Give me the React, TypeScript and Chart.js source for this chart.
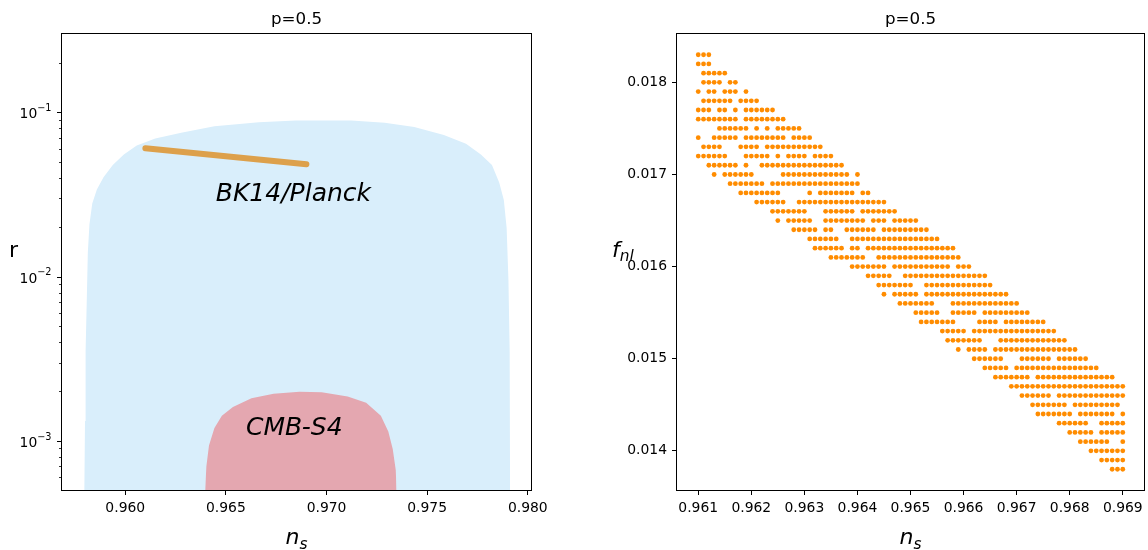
import React, { useEffect, useRef } from 'react';
import { Chart, registerables } from 'chart.js';
Chart.register(...registerables);

const W = 1148;
const H = 550;

// ---------- Left panel data (ns vs r, log r) ----------
const blueNs = [0.95796, 0.958, 0.95803, 0.95809, 0.95814, 0.95822, 0.95836, 0.95859, 0.95892, 0.95938, 0.95993, 0.96057, 0.96149, 0.96278, 0.96443, 0.96664, 0.96847, 0.97123, 0.97289, 0.97436, 0.97583, 0.97693, 0.97767, 0.97822, 0.97858, 0.97881, 0.97895, 0.97904, 0.9791, 0.97912];
const blueR = [0.0005, 0.001323, 0.003537, 0.00739, 0.014, 0.02075, 0.0279, 0.0339, 0.0403, 0.0478, 0.0554, 0.0627, 0.0692, 0.0752, 0.0822, 0.0871, 0.0893, 0.0893, 0.0863, 0.0814, 0.0727, 0.0643, 0.0554, 0.0478, 0.0374, 0.0293, 0.01975, 0.00945, 0.00354, 0.0005];
const pinkNs = [0.96397, 0.96403, 0.96416, 0.96443, 0.9648, 0.96535, 0.96627, 0.96737, 0.96866, 0.96976, 0.97105, 0.97197, 0.9727, 0.97307, 0.97329, 0.97344, 0.97348];
const pinkR = [0.0005, 0.000699, 0.000938, 0.0012, 0.001424, 0.001611, 0.001821, 0.001941, 0.00199, 0.00198, 0.001866, 0.001709, 0.001424, 0.001142, 0.000893, 0.000665, 0.0005];
const bkNs = [0.961, 0.965, 0.969];
const bkR = [0.0604, 0.054, 0.0483];

const leftXTicks = [0.96, 0.965, 0.97, 0.975, 0.98];
const leftYMajor = [0.001, 0.01, 0.1];
const leftYExp = ['\u22123', '\u22122', '\u22121'];

// ---------- Right panel data (ns vs f_nl) ----------
const nsStep = 0.0001;
const fnlRows = [0.0183, 0.0182, 0.0181, 0.018, 0.0179, 0.0178, 0.0177, 0.0176, 0.0175, 0.0174, 0.0173, 0.0172, 0.0171, 0.017, 0.0169, 0.0168, 0.0167, 0.0166, 0.0165, 0.0164, 0.0163, 0.0162, 0.0161, 0.016, 0.0159, 0.0158, 0.0157, 0.0156, 0.0155, 0.0154, 0.0153, 0.0152, 0.0151, 0.015, 0.0149, 0.0148, 0.0147, 0.0146, 0.0145, 0.0144, 0.0143, 0.0142, 0.0141, 0.014, 0.0139, 0.0138];
const nsRuns: number[][][] = [
  [[0.961, 0.9612]],
  [[0.961, 0.9612]],
  [[0.9611, 0.9615]],
  [[0.9611, 0.9614], [0.9616, 0.9617]],
  [[0.961, 0.961], [0.9612, 0.9613], [0.9615, 0.9617], [0.9619, 0.9619]],
  [[0.9611, 0.9616], [0.9618, 0.9621]],
  [[0.961, 0.9612], [0.9614, 0.9615], [0.9617, 0.9617], [0.9619, 0.9624]],
  [[0.961, 0.9617], [0.9619, 0.9626]],
  [[0.9614, 0.9619], [0.9621, 0.9621], [0.9623, 0.9623], [0.9625, 0.9629]],
  [[0.961, 0.961], [0.9613, 0.9617], [0.9619, 0.9626], [0.9628, 0.9631]],
  [[0.9611, 0.9614], [0.9618, 0.9621], [0.9623, 0.9633]],
  [[0.961, 0.9615], [0.9619, 0.9623], [0.9625, 0.9625], [0.9627, 0.963], [0.9632, 0.9635]],
  [[0.9612, 0.9617], [0.9619, 0.9619], [0.9622, 0.9637]],
  [[0.9613, 0.9613], [0.9615, 0.962], [0.9626, 0.9638], [0.964, 0.964]],
  [[0.9616, 0.9622], [0.9624, 0.964]],
  [[0.9618, 0.9625], [0.9631, 0.9631], [0.9633, 0.9639], [0.9641, 0.9642]],
  [[0.9621, 0.9626], [0.9629, 0.9645]],
  [[0.9624, 0.963], [0.9634, 0.9639], [0.9641, 0.9647]],
  [[0.9625, 0.9625], [0.9627, 0.9631], [0.9634, 0.9641], [0.9643, 0.9645], [0.9647, 0.9651]],
  [[0.9628, 0.9632], [0.9634, 0.9635], [0.9638, 0.9643], [0.9645, 0.9653]],
  [[0.9631, 0.9636], [0.9639, 0.9655]],
  [[0.9632, 0.9637], [0.9639, 0.964], [0.9642, 0.9658]],
  [[0.9635, 0.9641], [0.9644, 0.9659]],
  [[0.9639, 0.9645], [0.9647, 0.9657], [0.9659, 0.9661]],
  [[0.9642, 0.9646], [0.9649, 0.9664]],
  [[0.9644, 0.965], [0.9653, 0.9665]],
  [[0.9645, 0.9645], [0.9647, 0.9651], [0.9653, 0.9668]],
  [[0.9648, 0.9654], [0.9658, 0.967]],
  [[0.9651, 0.9655], [0.9658, 0.9662], [0.9664, 0.9672]],
  [[0.9652, 0.9658], [0.9663, 0.9666], [0.9668, 0.9675]],
  [[0.9656, 0.966], [0.9662, 0.9677]],
  [[0.9657, 0.9663], [0.9667, 0.9679]],
  [[0.9659, 0.9659], [0.9661, 0.9664], [0.9666, 0.9681]],
  [[0.9662, 0.9667], [0.9671, 0.9676], [0.9678, 0.9683]],
  [[0.9664, 0.9668], [0.967, 0.9685]],
  [[0.9666, 0.9672], [0.9674, 0.9688]],
  [[0.9669, 0.969]],
  [[0.9671, 0.9676], [0.9678, 0.969]],
  [[0.9673, 0.9679], [0.9681, 0.9689]],
  [[0.9674, 0.968], [0.9682, 0.9688], [0.969, 0.969]],
  [[0.9678, 0.9683], [0.9686, 0.969]],
  [[0.968, 0.9684], [0.9686, 0.969]],
  [[0.9682, 0.9687], [0.969, 0.969]],
  [[0.9684, 0.969]],
  [[0.9686, 0.969]],
  [[0.9688, 0.969]],
];
const rightXTicks = [0.961, 0.962, 0.963, 0.964, 0.965, 0.966, 0.967, 0.968, 0.969];
const rightYTicks = [0.014, 0.015, 0.016, 0.017, 0.018];

const FAM = '"DejaVu Sans"';
const TICK_FONT = `13.9px ${FAM}`;
const SUP_FONT = `9.7px ${FAM}`;
const TITLE_FONT = `16.7px ${FAM}`;
const LABEL_FONT = `22px ${FAM}`;
const LABEL_IT = `italic 22px ${FAM}`;
const SUB_IT = `italic 15.4px ${FAM}`;
const ANNOT_FONT = `italic 25px ${FAM}`;

type Part = { text: string; font: string; dy?: number };
function drawParts(ctx: CanvasRenderingContext2D, parts: Part[], x: number, y: number, align: 'left' | 'center' | 'right') {
  ctx.save();
  ctx.textBaseline = 'alphabetic';
  ctx.textAlign = 'left';
  ctx.fillStyle = '#000';
  const widths = parts.map((p) => { ctx.font = p.font; return ctx.measureText(p.text).width; });
  const total = widths.reduce((a, b) => a + b, 0);
  let cx = align === 'left' ? x : align === 'center' ? x - total / 2 : x - total;
  parts.forEach((p, i) => { ctx.font = p.font; ctx.fillText(p.text, cx, y + (p.dy || 0)); cx += widths[i]; });
  ctx.restore();
}

function drawFrame(chart: any) {
  const { ctx, chartArea: a } = chart;
  ctx.save();
  ctx.strokeStyle = '#000';
  ctx.lineWidth = 1;
  ctx.strokeRect(Math.round(a.left) - 0.5, Math.round(a.top) - 0.5, Math.round(a.right - a.left) + 1, Math.round(a.bottom - a.top) + 1);
  ctx.restore();
}

function buildScatter() {
  const pts: { x: number; y: number }[] = [];
  fnlRows.forEach((f, j) => {
    nsRuns[j].forEach(([a, b]) => {
      const n = Math.round((b - a) / nsStep);
      for (let k = 0; k <= n; k++) pts.push({ x: a + k * nsStep, y: f });
    });
  });
  return pts;
}

const tickFontObj = { family: 'DejaVu Sans', size: 13.9 };

export default function App() {
  const leftRef = useRef<HTMLCanvasElement>(null);
  const rightRef = useRef<HTMLCanvasElement>(null);

  useEffect(() => {
    const leftChart = new Chart(leftRef.current!, {
      type: 'line',
      data: {
        datasets: [
          {
            data: blueNs.map((x, i) => ({ x, y: blueR[i] })),
            borderWidth: 0,
            pointRadius: 0,
            fill: 'start',
            backgroundColor: '#d9eefb',
            borderColor: 'rgba(0,0,0,0)',
            order: 3,
          },
          {
            data: pinkNs.map((x, i) => ({ x, y: pinkR[i] })),
            borderWidth: 0,
            pointRadius: 0,
            fill: 'start',
            backgroundColor: '#e4a7b0',
            borderColor: 'rgba(0,0,0,0)',
            order: 2,
          },
          {
            data: bkNs.map((x, i) => ({ x, y: bkR[i] })),
            borderWidth: 6,
            borderCapStyle: 'round',
            pointRadius: 0,
            fill: false,
            borderColor: '#dda04b',
            order: 1,
          },
        ] as any,
      },
      options: {
        responsive: false,
        animation: false,
        devicePixelRatio: 1,
        layout: { padding: { left: 12, right: W - 531, top: 34, bottom: 20 } },
        plugins: { legend: { display: false }, tooltip: { enabled: false }, title: { display: false } },
        scales: {
          x: {
            type: 'linear',
            min: 0.956857,
            max: 0.98016,
            afterBuildTicks: (s: any) => { s.ticks = leftXTicks.map((v) => ({ value: v })); },
            afterFit: (s: any) => { s.height = 40; },
            ticks: { autoSkip: false, maxRotation: 0, padding: 5, color: '#000', font: tickFontObj, callback: (v: any) => Number(v).toFixed(3) },
            grid: { display: true, drawOnChartArea: false, drawTicks: true, tickLength: 5, tickColor: '#000', tickWidth: 1 },
            border: { display: false },
          },
          y: {
            type: 'logarithmic',
            min: 5.03e-4,
            max: 0.2996,
            afterFit: (s: any) => { s.width = 50; },
            ticks: { display: false },
            grid: { display: false },
            border: { display: false },
          },
        },
      } as any,
      plugins: [
        {
          id: 'leftDecor',
          afterDraw(chart: any) {
            const { ctx, chartArea: a } = chart;
            const ys = chart.scales.y;
            const xs = chart.scales.x;
            ctx.save();
            ctx.strokeStyle = '#000';
            for (let d = -4; d <= -1; d++) {
              for (let m = 1; m <= 9; m++) {
                const v = m * Math.pow(10, d);
                if (v <= ys.min * 1.001 || v >= ys.max * 0.999) continue;
                const y = Math.round(ys.getPixelForValue(v)) + 0.5;
                const major = m === 1;
                ctx.lineWidth = major ? 1 : 0.8;
                ctx.beginPath();
                ctx.moveTo(a.left - (major ? 5 : 3), y);
                ctx.lineTo(a.left, y);
                ctx.stroke();
              }
            }
            ctx.restore();
            leftYMajor.forEach((v, i) => {
              const y = ys.getPixelForValue(v);
              drawParts(ctx, [
                { text: '10', font: TICK_FONT, dy: 6 },
                { text: leftYExp[i], font: SUP_FONT, dy: -1.4 },
              ], 51.5, y, 'right');
            });
            drawParts(ctx, [{ text: 'BK14/Planck', font: ANNOT_FONT }], xs.getPixelForValue(0.9645), ys.getPixelForValue(0.029), 'left');
            drawParts(ctx, [{ text: 'CMB-S4', font: ANNOT_FONT }], xs.getPixelForValue(0.9660), ys.getPixelForValue(0.00109), 'left');
            const cx = (a.left + a.right) / 2;
            drawParts(ctx, [{ text: 'p=0.5', font: TITLE_FONT }], cx, 24, 'center');
            drawParts(ctx, [{ text: 'n', font: LABEL_IT }, { text: 's', font: SUB_IT, dy: 4.5 }], cx, 544, 'center');
            drawParts(ctx, [{ text: 'r', font: LABEL_FONT }], 9, 257, 'left');
            drawFrame(chart);
          },
        },
      ],
    });

    const rightChart = new Chart(rightRef.current!, {
      type: 'scatter',
      data: {
        datasets: [
          {
            data: buildScatter(),
            pointRadius: 2.4,
            pointBorderWidth: 0,
            backgroundColor: '#ff8c00',
            borderColor: '#ff8c00',
          },
        ],
      },
      options: {
        responsive: false,
        animation: false,
        devicePixelRatio: 1,
        layout: { padding: { left: 627, right: 2, top: 34, bottom: 20 } },
        plugins: { legend: { display: false }, tooltip: { enabled: false }, title: { display: false } },
        scales: {
          x: {
            type: 'linear',
            min: 0.9606,
            max: 0.9694,
            afterBuildTicks: (s: any) => { s.ticks = rightXTicks.map((v) => ({ value: v })); },
            afterFit: (s: any) => { s.height = 40; },
            ticks: { autoSkip: false, maxRotation: 0, padding: 5, color: '#000', font: tickFontObj, callback: (v: any) => Number(v).toFixed(3) },
            grid: { display: true, drawOnChartArea: false, drawTicks: true, tickLength: 5, tickColor: '#000', tickWidth: 1 },
            border: { display: false },
          },
          y: {
            type: 'linear',
            min: 0.013575,
            max: 0.018525,
            afterBuildTicks: (s: any) => { s.ticks = rightYTicks.map((v) => ({ value: v })); },
            afterFit: (s: any) => { s.width = 50; },
            ticks: { autoSkip: false, padding: 5, color: '#000', font: tickFontObj, callback: (v: any) => Number(v).toFixed(3) },
            grid: { display: true, drawOnChartArea: false, drawTicks: true, tickLength: 5, tickColor: '#000', tickWidth: 1 },
            border: { display: false },
          },
        },
      } as any,
      plugins: [
        {
          id: 'rightDecor',
          afterDraw(chart: any) {
            const { ctx, chartArea: a } = chart;
            const cx = (a.left + a.right) / 2;
            drawParts(ctx, [{ text: 'p=0.5', font: TITLE_FONT }], cx, 24, 'center');
            drawParts(ctx, [{ text: 'n', font: LABEL_IT }, { text: 's', font: SUB_IT, dy: 4.5 }], cx, 544, 'center');
            drawParts(ctx, [{ text: 'f', font: LABEL_IT }, { text: 'nl', font: SUB_IT, dy: 4 }], 612, 257, 'left');
            drawFrame(chart);
          },
        },
      ],
    });

    return () => {
      leftChart.destroy();
      rightChart.destroy();
    };
  }, []);

  return (
    <div style={{ position: 'fixed', left: 0, top: 0, width: W, height: H, background: '#fff' }}>
      <canvas ref={leftRef} width={W} height={H} style={{ position: 'absolute', left: 0, top: 0, width: W, height: H }} />
      <canvas ref={rightRef} width={W} height={H} style={{ position: 'absolute', left: 0, top: 0, width: W, height: H }} />
    </div>
  );
}
